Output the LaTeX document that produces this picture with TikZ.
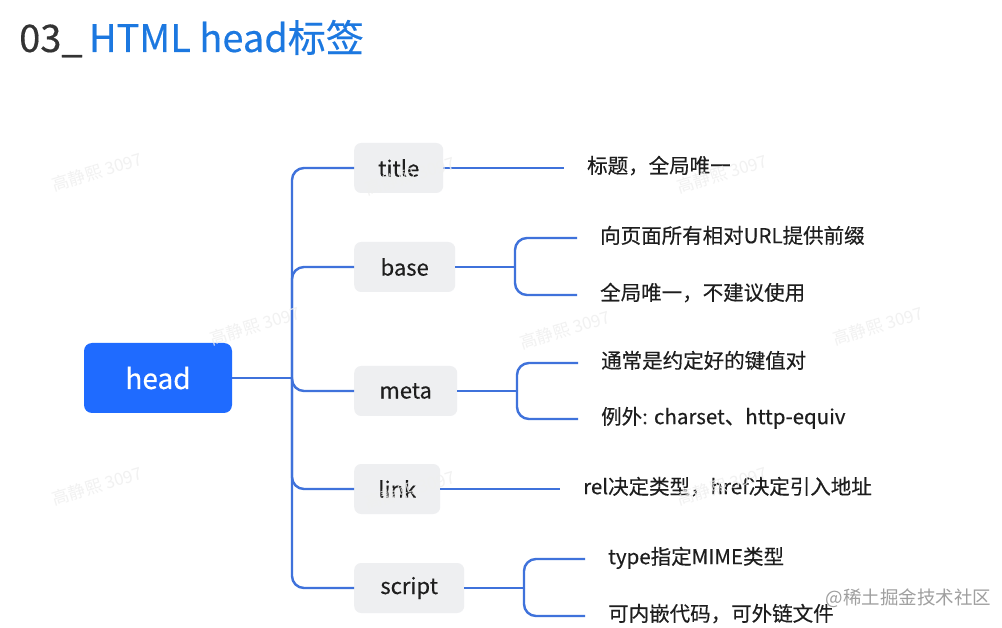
\documentclass[tikz,border=0pt]{standalone}
\usepackage{fontspec}
\setmainfont{Noto Sans CJK SC}[FakeBold=0.35]
\newfontfamily\wmfont{Noto Sans CJK SC}
\definecolor{linec}{HTML}{3F72DB}
\definecolor{headc}{HTML}{1F6BFF}
\definecolor{boxc}{HTML}{EEEFF1}
\definecolor{txtc}{HTML}{1E1E1E}
\definecolor{titleblue}{HTML}{1C78E0}
\definecolor{wmc}{HTML}{EFEFEF}
\begin{document}
\begin{tikzpicture}[x=1pt,y=-1pt,
  edge/.style={draw=linec,line width=2.4pt},
  redge/.style={edge,rounded corners=12pt},
  sub/.style={rectangle,fill=boxc,rounded corners=7pt,minimum height=50pt,inner sep=0pt,anchor=west,font=\fontsize{22}{26}\selectfont,text=txtc},
  leaf/.style={anchor=west,inner xsep=23pt,inner ysep=0pt,text height=1.04em,text depth=0em,font=\fontsize{20.5}{24}\selectfont,text=txtc},
  wm/.style={text=wmc,rotate=17,font=\wmfont\fontsize{17}{19}\selectfont,opacity=0.85}]
\useasboundingbox (0,0) rectangle (1002,628);
\fill[white] (0,0) rectangle (1002,628);
% title
\node[anchor=base west,inner sep=0pt,font=\fontsize{38}{44}\selectfont] (ttl) at (19,52)
  {\textcolor[HTML]{333333}{03\_}\,\textcolor{titleblue}{HTML head标签}};
% root
\node[rectangle,fill=headc,rounded corners=8pt,minimum width=148pt,minimum height=70pt,text=white,font=\fontsize{28}{32}\selectfont] (head) at (158,378) {head};
\coordinate (jn) at (292,378);
% sub nodes
\node[sub,minimum width=89pt] (title) at (354,168) {title};
\node[sub,minimum width=101pt] (base) at (354,267) {base};
\node[sub,minimum width=103pt] (meta) at (354,391) {meta};
\node[sub,minimum width=86pt] (link) at (354,489) {link};
\node[sub,minimum width=110pt] (script) at (354,588) {script};
% leaves
\node[leaf] (t1) at (564,168) {标题，全局唯一};
\node[leaf] (b1) at (577,238) {向页面所有相对URL提供前缀};
\node[leaf] (b2) at (577,295) {全局唯一，不建议使用};
\node[leaf] (m1) at (578,363) {通常是约定好的键值对};
\node[leaf] (m2) at (578,419) {例外: charset、http-equiv};
\node[leaf] (l1) at (560,489) {rel决定类型，href决定引入地址};
\node[leaf] (s1) at (585,559) {type指定MIME类型};
\node[leaf] (s2) at (585,616) {可内嵌代码，可外链文件};
% connectors
\draw[edge] (head.east) -- (jn);
\foreach \n in {title,base,meta,link,script}{
  \draw[redge] (jn) |- (\n.west);
}
\coordinate (bj) at (515,267);
\coordinate (mj) at (517,391);
\coordinate (sj) at (524,588);
\draw[edge] (title.east) -- (t1.west);
\draw[edge] (base.east) -- (bj);
\draw[redge] (bj) |- (b1.west);
\draw[redge] (bj) |- (b2.west);
\draw[edge] (meta.east) -- (mj);
\draw[redge] (mj) |- (m1.west);
\draw[redge] (mj) |- (m2.west);
\draw[edge] (link.east) -- (l1.west);
\draw[edge] (script.east) -- (sj);
\draw[redge] (sj) |- (s1.west);
\draw[redge] (sj) |- (s2.west);
% watermarks
\foreach \x/\y in {97/172,410/176,722/174,255/326,565/330,878/326,97/486,410/490,722/486}{
  \node[wm] at (\x,\y) {高静熙 3097};
}
\node[anchor=west,text=white,font=\wmfont\fontsize{18.5}{22}\selectfont] at (822.8,598.8) {@稀土掘金技术社区};
\node[anchor=west,text=gray!75,font=\wmfont\fontsize{18.5}{22}\selectfont] (jj) at (822,598) {@稀土掘金技术社区};
\end{tikzpicture}
\end{document}
